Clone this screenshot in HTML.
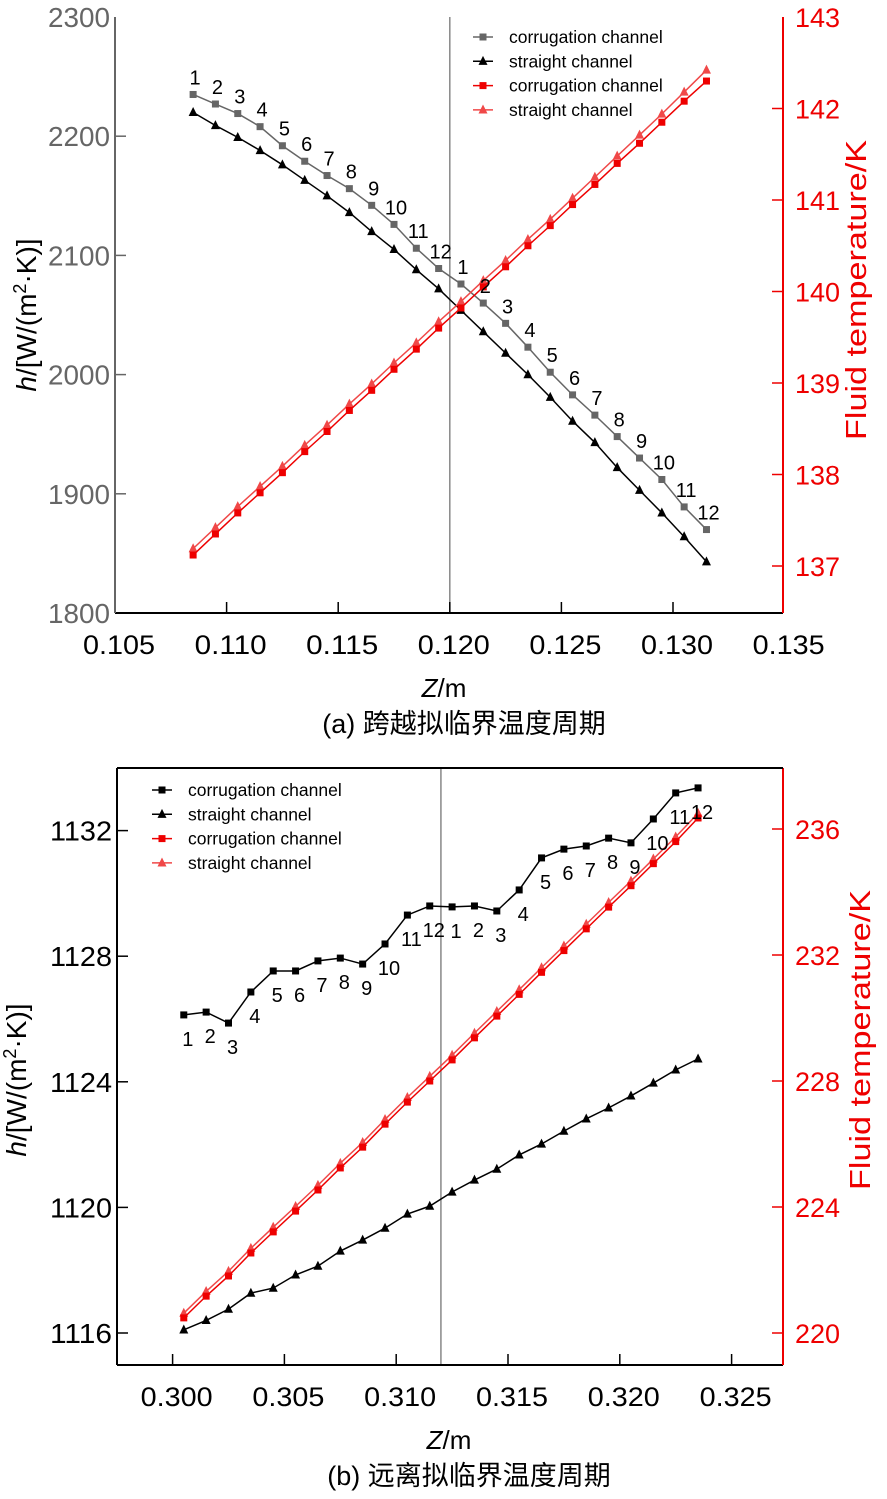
<!DOCTYPE html>
<html><head><meta charset="utf-8"><style>
body{margin:0;background:#fff;}
svg{display:block;font-family:"Liberation Sans","Noto Sans CJK SC",sans-serif;}
</style></head><body>
<svg id="fig" width="887" height="1499" viewBox="0 0 887 1499"></svg>
<script>
// ---------- Chart (a) data ----------
const aLabels = ["1","2","3","4","5","6","7","8","9","10","11","12","1","2","3","4","5","6","7","8","9","10","11","12"];
const aZ = [0.1085,0.1095,0.1105,0.1115,0.1125,0.1135,0.1145,0.1155,0.1165,0.1175,0.1185,0.1195,0.1205,0.1215,0.1225,0.1235,0.1245,0.1255,0.1265,0.1275,0.1285,0.1295,0.1305,0.1315];
const aHCorr = [2235,2227,2219,2208,2192,2179,2167,2156,2142,2126,2106,2089,2076,2060,2043,2023,2002,1983,1966,1948,1930,1912,1889,1870];
const aHStraight = [2220,2209,2199,2188,2176,2163,2150,2136,2120,2105,2088,2072,2054,2036,2018,2000,1981,1961,1943,1922,1903,1884,1864,1843];
const aTCorr = [137.12,137.35,137.58,137.80,138.02,138.25,138.47,138.70,138.92,139.15,139.37,139.60,139.82,140.05,140.27,140.50,140.72,140.95,141.17,141.40,141.62,141.85,142.08,142.30];
const aTStraight = [137.19,137.42,137.65,137.87,138.09,138.32,138.54,138.77,138.99,139.22,139.44,139.67,139.89,140.12,140.34,140.57,140.79,141.02,141.25,141.48,141.71,141.94,142.18,142.42];
const aXTicks = [0.105,0.110,0.115,0.120,0.125,0.130,0.135];
const aYTicks = [1800,1900,2000,2100,2200,2300];
const aY2Ticks = [137,138,139,140,141,142,143];
// ---------- Chart (b) data ----------
const bLabels = aLabels;
const bZ = [0.3005,0.3015,0.3025,0.3035,0.3045,0.3055,0.3065,0.3075,0.3085,0.3095,0.3105,0.3115,0.3125,0.3135,0.3145,0.3155,0.3165,0.3175,0.3185,0.3195,0.3205,0.3215,0.3225,0.3235];
const bHCorr = [1126.13,1126.22,1125.87,1126.86,1127.53,1127.53,1127.85,1127.94,1127.75,1128.39,1129.31,1129.6,1129.57,1129.6,1129.44,1130.11,1131.13,1131.41,1131.51,1131.76,1131.61,1132.37,1133.2,1133.36];
const bHStraight = [1116.1,1116.4,1116.76,1117.27,1117.43,1117.85,1118.13,1118.61,1118.96,1119.34,1119.79,1120.04,1120.49,1120.87,1121.22,1121.67,1122.02,1122.43,1122.82,1123.17,1123.55,1123.96,1124.38,1124.73];
const bTCorr = [220.48,221.17,221.81,222.54,223.21,223.87,224.54,225.24,225.90,226.63,227.33,228.0,228.67,229.37,230.06,230.75,231.45,232.14,232.83,233.52,234.2,234.9,235.6,236.35];
const bTStraight = [220.63,221.32,221.96,222.69,223.36,224.02,224.69,225.39,226.05,226.78,227.48,228.15,228.82,229.52,230.21,230.9,231.6,232.29,232.98,233.67,234.35,235.05,235.75,236.5];
const bXTicks = [0.300,0.305,0.310,0.315,0.320,0.325];
const bYTicks = [1116,1120,1124,1128,1132];
const bY2Ticks = [220,224,228,232,236];

const NS="http://www.w3.org/2000/svg";
const svg=document.getElementById('fig');
function mk(tag,attrs,parent){const e=document.createElementNS(NS,tag);for(const k in attrs)e.setAttribute(k,attrs[k]);(parent||svg).appendChild(e);return e;}
function txt(s,attrs,parent){const e=mk('text',attrs,parent);e.textContent=s;return e;}

function square(g,x,y,c,s){return mk('rect',{x:x-s/2,y:y-s/2,width:s,height:s,fill:c},g);}
function tri(g,x,y,c,s){return mk('polygon',{points:`${x},${y-s*0.6} ${x-s/2},${y+s*0.4} ${x+s/2},${y+s*0.4}`,fill:c},g);}

function series(name,xs,ys,X,Y,color,marker,sw){
  const g=mk('g',{});
  
  
  const pts=xs.map((v,i)=>X(v)+','+Y(ys[i])).join(' ');
  const pl=mk('polyline',{points:pts,fill:'none',stroke:color,'stroke-width':sw||1.5},g);
  
  
  xs.forEach((v,i)=>{
    const m=marker==='sq'?square(g,X(v),Y(ys[i]),color,7):tri(g,X(v),Y(ys[i]),color,9);
    
    
  });
  return g;
}

function chart(cfg){
  const {L,R,T,B,X,Y,Y2,xt,yt,y2t,yColor,top}=cfg;
  const g=mk('g',{});
  
  
  const vl=mk('line',{x1:X(cfg.vline),x2:X(cfg.vline),y1:T,y2:B,stroke:'#888','stroke-width':1.5},g);
  
  
  const ax=mk('line',{x1:L,x2:R,y1:B,y2:B,stroke:'#000','stroke-width':2},g);
  
  
  const ay=mk('line',{x1:L,x2:L,y1:T,y2:B,stroke:yColor,'stroke-width':2},g);
  
  
  const ay2=mk('line',{x1:R,x2:R,y1:T,y2:B,stroke:'#e00','stroke-width':2},g);
  
  
  if(top){const tl=mk('line',{x1:L,x2:R,y1:T,y2:T,stroke:'#000','stroke-width':2},g);
    
    }
  xt.forEach(v=>{
    const x=X(v);
    if(x>L+2&&x<R-2){const t=mk('line',{x1:x,x2:x,y1:B,y2:B-11,stroke:'#000','stroke-width':1.5},g);
      
      }
    const l=txt(v.toFixed(3),{x:x+4,y:B+41,'font-size':27,'text-anchor':'middle',fill:'#000',textLength:72,lengthAdjust:'spacingAndGlyphs'},g);
    
    
  });
  yt.forEach(v=>{
    const y=Y(v);
    if(y<B-2&&y>T+2){const t=mk('line',{x1:L,x2:L+11,y1:y,y2:y,stroke:yColor,'stroke-width':1.5},g);
      
      }
    const l=txt(String(v),{x:L-5,y:y+10,'font-size':28,'text-anchor':'end',fill:yColor,textLength:62,lengthAdjust:'spacingAndGlyphs'},g);
    
    
  });
  y2t.forEach(v=>{
    const y=Y2(v);
    if(y<B-2&&y>T+2){const t=mk('line',{x1:R,x2:R-11,y1:y,y2:y,stroke:'#e00','stroke-width':1.5},g);
      
      }
    const l=txt(String(v),{x:R+12,y:y+10,'font-size':27,'text-anchor':'start',fill:'#e00'},g);
    
    
  });
}

function axisTitles(cx,cy,rx,ry,zx,zy,cap,capy){
  const t1=mk('text',{x:0,y:0,'font-size':28,'text-anchor':'middle',transform:`translate(${cx},${cy}) rotate(-90)`});
  t1.innerHTML='<tspan font-style="italic">h</tspan>/[W/(m<tspan baseline-shift="super" font-size="18">2</tspan>·K)]';
  
  
  const t2=txt('Fluid temperature/K',{x:0,y:0,'font-size':29,'text-anchor':'middle',fill:'#e00',transform:`translate(${rx},${ry}) rotate(-90)`,textLength:300,lengthAdjust:'spacingAndGlyphs'});
  
  
  const t3=mk('text',{x:zx,y:zy,'font-size':26,'text-anchor':'middle'});
  t3.innerHTML='<tspan font-style="italic">Z</tspan>/m';
  
  
  const t4=txt(cap,{x:zx+20,y:capy,'font-size':27,'text-anchor':'middle'});
  
  
}

function legend(x,y,items){
  const g=mk('g',{});
  
  
  items.forEach((it,i)=>{
    const yy=y+i*24.3;
    const e=mk('g',{},g);
    
    
    mk('line',{x1:x-10,x2:x+10,y1:yy,y2:yy,stroke:it.c,'stroke-width':1.5},e);
    if(it.m==='sq')square(e,x,yy,it.c,7);else tri(e,x,yy,it.c,9);
    txt(it.t,{x:x+26,y:yy+6,'font-size':17.5,fill:'#000'},e);
  });
}

function labels(name,xs,ys,X,Y,labs,dx,dy){
  labs.forEach((s,i)=>{
    const t=txt(s,{x:X(xs[i])+dx,y:Y(ys[i])+dy,'font-size':20,'text-anchor':'middle'});
    
    
  });
}

// ---- Chart (a) ----
(function(){
  const L=115,R=783,T=17,B=613;
  const X=v=>L+(v-0.105)/0.005*111.6;
  const Y=v=>B-(v-1800)*1.192;
  const Y2=v=>566-(v-137)*91.5;
  chart({name:'chart-a',L,R,T,B,X,Y,Y2,xt:aXTicks,yt:aYTicks,y2t:aY2Ticks,yColor:'#666',vline:0.1200,top:false});
  series('a-corrugation-h',aZ,aHCorr,X,Y,'#666','sq');
  series('a-straight-h',aZ,aHStraight,X,Y,'#000','tri');
  series('a-straight-temp',aZ,aTStraight,X,Y2,'#f04848','tri');
  series('a-corrugation-temp',aZ,aTCorr,X,Y2,'#ee0000','sq');
  labels('a-point-label',aZ,aHCorr,X,Y,aLabels,2,-10);
  legend(483,37,[{t:'corrugation channel',c:'#666',m:'sq'},{t:'straight channel',c:'#000',m:'tri'},{t:'corrugation channel',c:'#ee0000',m:'sq'},{t:'straight channel',c:'#f04848',m:'tri'}]);
  axisTitles(36,315,866,290,444,697,'(a) 跨越拟临界温度周期',733);
})();

// ---- Chart (b) ----
(function(){
  const L=117,R=783,T=768,B=1365;
  const X=v=>172.6+(v-0.300)/0.005*111.8;
  const Y=v=>1333-(v-1116)*31.4;
  const Y2=v=>1333-(v-220)*31.5;
  chart({name:'chart-b',L,R,T,B,X,Y,Y2,xt:bXTicks,yt:bYTicks,y2t:bY2Ticks,yColor:'#000',vline:0.3120,top:true});
  series('b-straight-temp',bZ,bTStraight,X,Y2,'#f04848','tri');
  series('b-corrugation-temp',bZ,bTCorr,X,Y2,'#ee0000','sq');
  series('b-straight-h',bZ,bHStraight,X,Y,'#000','tri');
  series('b-corrugation-h',bZ,bHCorr,X,Y,'#000','sq');
  labels('b-point-label',bZ,bHCorr,X,Y,bLabels,4,31);
  legend(162,790,[{t:'corrugation channel',c:'#000',m:'sq'},{t:'straight channel',c:'#000',m:'tri'},{t:'corrugation channel',c:'#ee0000',m:'sq'},{t:'straight channel',c:'#f04848',m:'tri'}]);
  axisTitles(26,1080,870,1040,449,1449,'(b) 远离拟临界温度周期',1485);
})();
</script>
</body></html>
